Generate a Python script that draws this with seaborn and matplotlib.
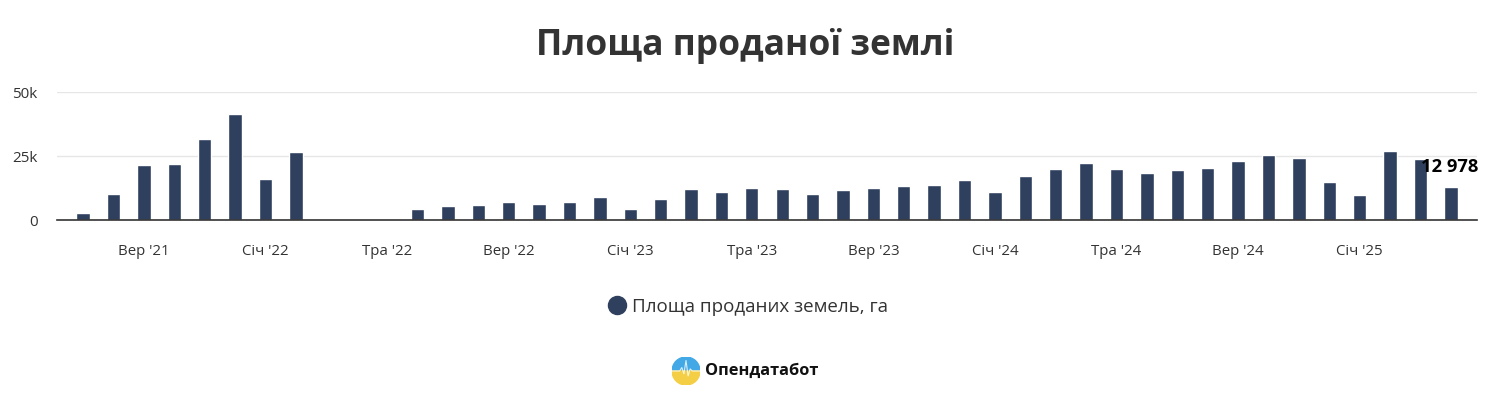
import numpy as np
import pandas as pd
import matplotlib
matplotlib.use("Agg")
import matplotlib.pyplot as plt
from matplotlib.lines import Line2D
from matplotlib.patches import Wedge
import seaborn as sns

# ---- data ----
months = [
    "2021-07", "2021-08", "2021-09", "2021-10", "2021-11", "2021-12",
    "2022-01", "2022-02", "2022-03", "2022-04", "2022-05", "2022-06",
    "2022-07", "2022-08", "2022-09", "2022-10", "2022-11", "2022-12",
    "2023-01", "2023-02", "2023-03", "2023-04", "2023-05", "2023-06",
    "2023-07", "2023-08", "2023-09", "2023-10", "2023-11", "2023-12",
    "2024-01", "2024-02", "2024-03", "2024-04", "2024-05", "2024-06",
    "2024-07", "2024-08", "2024-09", "2024-10", "2024-11", "2024-12",
    "2025-01", "2025-02", "2025-03", "2025-04",
]
area_ha = [
    2850, 10200, 21400, 21900, 31600, 41400,
    16000, 26400, np.nan, np.nan, np.nan, 4300,
    5300, 5700, 6900, 6400, 6900, 9100,
    4300, 8200, 12100, 10800, 12600, 12100,
    10300, 11600, 12600, 13200, 13700, 15500,
    11100, 17100, 19900, 22400, 19900, 18500,
    19400, 20400, 22900, 25400, 24300, 15000,
    9600, 26800, 23800, 12978,
]
tick_months = ["2021-09", "2022-01", "2022-05", "2022-09", "2023-01", "2023-05",
               "2023-09", "2024-01", "2024-05", "2024-09", "2025-01"]
tick_labels = ["Вер '21", "Січ '22", "Тра '22", "Вер '22", "Січ '23", "Тра '23",
               "Вер '23", "Січ '24", "Тра '24", "Вер '24", "Січ '25"]
y_ticks = [0, 25000, 50000]
y_tick_labels = ["0", "25k", "50k"]
series_name = "Площа проданих земель, га"
title = "Площа проданої землі"
last_label = "12 978"

# ---- style ----
sns.set_theme(style="white")
plt.rcParams["font.family"] = ["Open Sans", "DejaVu Sans"]

bar_color = "#2f3f5e"
text_color = "#333333"

df = pd.DataFrame({"month": months, "area": area_ha})

fig = plt.figure(figsize=(14.9, 3.97), dpi=100)
ax = fig.add_axes([57 / 1490, 1 - 220 / 397, (1477 - 57) / 1490, (220 - 92) / 397])

sns.barplot(data=df, x="month", y="area", order=months, color=bar_color,
            width=0.44, saturation=1, ax=ax, errorbar=None, zorder=3)

ax.set_xlim(-0.86, len(months) - 1 + 0.86)
ax.set_ylim(0, 50000)
ax.set_xlabel("")
ax.set_ylabel("")

tick_pos = [months.index(m) for m in tick_months]
ax.set_xticks(tick_pos)
ax.set_xticklabels(tick_labels, fontsize=10.8, color=text_color)
ax.set_yticks(y_ticks)
ax.set_yticklabels(y_tick_labels, fontsize=11, color=text_color)
ax.tick_params(axis="x", length=0, pad=17)
ax.tick_params(axis="y", length=0, pad=14)

ax.grid(axis="y", color="#e6e6e6", linewidth=1, zorder=0)
ax.grid(axis="x", visible=False)
for s in ["top", "right", "left"]:
    ax.spines[s].set_visible(False)
ax.spines["bottom"].set_color("#333333")
ax.spines["bottom"].set_linewidth(1.2)
ax.spines["bottom"].set_zorder(4)

# last value label
last_idx = len(months) - 1
ax.annotate(last_label, xy=(last_idx, area_ha[-1]), xytext=(19.5, 8),
            textcoords="offset points", ha="right", va="bottom",
            fontsize=13.2, fontweight="bold", color="black", zorder=5,
            annotation_clip=False)

# title
fig.text(745 / 1490, 1 - 46 / 397, title, ha="center", va="center",
         fontsize=25.5, fontweight="bold", color=text_color)

# legend
handle = Line2D([0], [0], marker="o", linestyle="none", markersize=13,
                markerfacecolor=bar_color, markeredgecolor=bar_color)
fig.legend([handle], [series_name], loc="center",
           bbox_to_anchor=(747 / 1490, 1 - 307 / 397), frameon=False,
           fontsize=13.5, labelcolor=text_color, handletextpad=0.2,
           handlelength=1.2)

# logo
lax = fig.add_axes([(686 - 14) / 1490, 1 - (371 + 14) / 397, 28 / 1490, 28 / 397])
lax.set_xlim(-1, 1)
lax.set_ylim(-1, 1)
lax.set_aspect("equal")
lax.axis("off")
lax.add_patch(Wedge((0, 0), 1, 0, 180, color="#43a8e6"))
lax.add_patch(Wedge((0, 0), 1, 180, 360, color="#f4cf45"))
lax.plot([-1, -0.45, -0.3, -0.15, 0.0, 0.15, 0.3, 0.45, 1],
         [0.0, 0.0, 0.25, -0.2, 0.75, -0.35, 0.15, 0.0, 0.0],
         color="white", linewidth=0.8, alpha=0.8)
fig.text(705 / 1490, 1 - 371 / 397, "Опендатабот", ha="left", va="center",
         fontsize=11.8, fontweight="bold", color="#111111")

fig.savefig("out.png", dpi=100)
